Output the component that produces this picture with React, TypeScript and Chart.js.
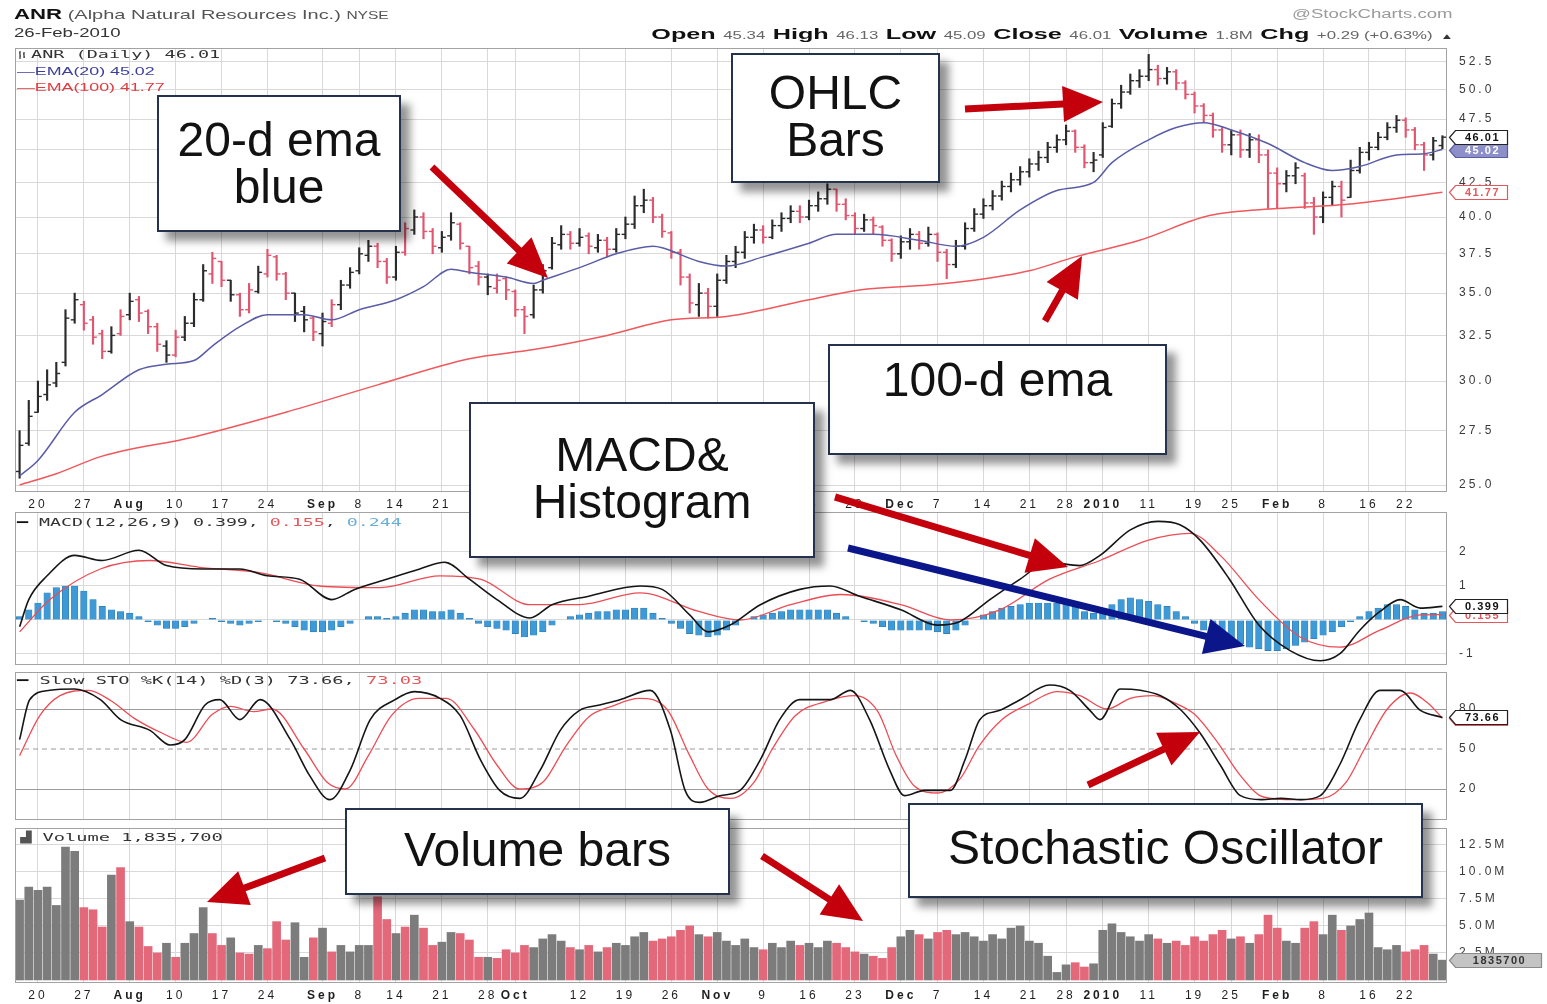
import React, { useEffect, useRef } from 'react';
import { Chart, registerables } from 'chart.js';
Chart.register(...registerables);

const FONT = "'Liberation Sans', Arial, Helvetica, sans-serif";
const MONO = "'DejaVu Sans Mono', 'Liberation Mono', monospace";

// ---------- DATA ----------
const N = 156; // trading days 16-Jul-2009 .. 26-Feb-2010
const tickIndex = [2, 7, 12, 17, 22, 27, 33, 37, 41, 46, 51, 54, 61, 66, 71, 76, 81, 86, 91, 96, 100, 105, 110, 114, 118, 123, 128, 132, 137, 142, 147, 151];
const tickLabels = ['20', '27', 'Aug', '10', '17', '24', 'Sep', '8', '14', '21', '28', 'Oct', '12', '19', '26', 'Nov', '9', '16', '23', 'Dec', '7', '14', '21', '28', '2010', '11', '19', '25', 'Feb', '8', '16', '22'];
const boldLabels = ['Aug', 'Sep', 'Oct', 'Nov', 'Dec', '2010', 'Feb'];

const priceTicks = [25, 27.5, 30, 32.5, 35, 37.5, 40, 42.5, 45, 47.5, 50, 52.5];
const macdTicks = [-1, 0, 1, 2];
const stochTicks = [20, 50, 80];
const volumeTicks = [2.5, 5, 7.5, 10, 12.5];

// [open, high, low, close]
const ohlc = [
  [25.6, 27.5, 25.3, 26.8], [26.9, 29.0, 26.8, 28.2], [28.4, 30.0, 28.4, 29.2], [29.3, 30.6, 29.0, 29.8], [29.9, 31.0, 29.7, 30.4],
  [31.0, 34.0, 30.8, 33.5], [33.4, 35.0, 33.2, 34.6], [34.3, 34.5, 32.8, 33.2], [33.4, 33.6, 32.0, 32.4], [32.6, 32.8, 31.2, 31.6],
  [31.6, 33.0, 31.5, 32.5], [32.6, 34.0, 32.5, 33.6], [33.7, 35.0, 33.4, 34.5], [34.6, 34.8, 33.3, 33.8], [33.9, 34.0, 32.6, 33.0],
  [33.0, 33.2, 31.6, 32.0], [31.9, 32.2, 31.0, 31.4], [31.4, 32.8, 31.3, 32.4], [32.4, 33.6, 32.2, 33.2], [33.2, 35.0, 33.0, 34.6],
  [34.6, 36.8, 34.5, 36.4], [36.2, 37.6, 35.6, 37.2], [37.0, 37.0, 35.4, 35.8], [35.8, 35.8, 34.5, 34.9], [34.9, 35.0, 33.6, 34.0],
  [34.0, 35.6, 33.8, 35.2], [35.1, 36.7, 35.0, 36.3], [36.2, 37.8, 36.0, 37.4], [37.3, 37.4, 35.8, 36.2], [36.2, 36.3, 34.6, 35.0],
  [35.0, 35.0, 33.3, 33.8], [33.9, 34.2, 32.7, 33.4], [33.5, 33.6, 32.2, 32.7], [32.6, 33.8, 31.9, 33.3], [33.2, 34.6, 33.0, 34.3],
  [34.3, 35.8, 34.0, 35.5], [35.5, 36.6, 35.3, 36.3], [36.4, 37.9, 36.2, 37.5], [37.4, 38.4, 37.0, 38.0], [38.0, 38.2, 36.6, 37.0],
  [37.0, 37.2, 35.6, 36.0], [36.0, 38.0, 35.8, 37.6], [37.6, 39.6, 37.4, 39.2], [39.1, 40.5, 38.8, 40.0], [40.0, 40.3, 38.5, 39.0],
  [39.0, 39.2, 37.5, 38.0], [37.9, 39.0, 37.6, 38.6], [38.7, 40.3, 38.4, 39.6], [39.5, 39.6, 37.8, 38.2], [38.0, 38.0, 36.2, 36.6],
  [36.7, 37.0, 35.5, 36.0], [36.0, 36.2, 34.9, 35.4], [35.3, 36.2, 35.0, 35.8], [35.9, 36.0, 34.6, 35.2], [35.1, 35.2, 33.6, 34.0],
  [34.0, 34.2, 32.6, 33.6], [33.7, 35.5, 33.5, 35.2], [35.2, 36.8, 35.0, 36.4], [36.6, 38.6, 36.5, 38.2], [38.1, 39.4, 37.8, 38.8],
  [38.8, 39.0, 37.8, 38.2], [38.2, 39.2, 38.0, 38.6], [38.7, 38.9, 37.5, 38.0], [37.9, 38.8, 37.6, 38.4], [38.4, 38.6, 37.3, 37.8],
  [37.8, 39.2, 37.6, 38.8], [38.8, 40.0, 38.5, 39.5], [39.5, 41.5, 39.2, 40.8], [40.8, 42.0, 40.3, 41.2], [41.2, 41.4, 39.6, 40.0],
  [40.0, 40.2, 38.6, 39.0], [38.9, 39.0, 37.2, 37.6], [37.6, 37.8, 35.5, 36.0], [36.0, 36.2, 33.8, 34.4], [34.3, 35.6, 33.6, 35.0],
  [35.0, 35.3, 33.5, 34.2], [34.2, 36.2, 33.6, 35.8], [35.8, 37.4, 35.6, 37.0], [37.0, 38.0, 36.6, 37.6], [37.6, 39.0, 37.2, 38.6],
  [38.6, 39.5, 38.2, 39.1], [39.1, 39.4, 38.2, 38.6], [38.6, 39.8, 38.5, 39.4], [39.4, 40.3, 39.0, 39.9], [39.9, 40.8, 39.6, 40.4],
  [40.4, 40.8, 39.6, 40.0], [40.0, 41.2, 39.8, 40.8], [40.8, 41.8, 40.4, 41.3], [41.3, 42.4, 40.9, 42.0], [42.0, 42.0, 40.4, 40.9],
  [40.9, 41.3, 39.8, 40.1], [40.1, 40.3, 38.8, 39.2], [39.2, 40.2, 39.0, 39.8], [39.8, 40.0, 38.8, 39.4], [39.3, 39.4, 38.0, 38.4],
  [38.4, 38.5, 37.0, 37.5], [37.5, 38.7, 37.2, 38.3], [38.3, 39.2, 37.8, 38.8], [38.8, 39.0, 37.8, 38.2], [38.2, 39.3, 38.0, 38.8],
  [38.8, 38.9, 37.0, 37.6], [37.6, 37.8, 35.9, 36.8], [36.8, 38.4, 36.6, 38.0], [38.0, 39.6, 37.8, 39.2], [39.2, 40.6, 39.0, 40.2],
  [40.2, 41.3, 39.9, 40.8], [40.8, 41.9, 40.5, 41.5], [41.5, 42.6, 41.2, 42.2], [42.2, 43.2, 41.8, 42.7], [42.7, 43.7, 42.3, 43.3],
  [43.3, 44.3, 42.9, 43.9], [43.9, 44.9, 43.4, 44.4], [44.4, 45.6, 44.0, 45.2], [45.2, 46.2, 44.8, 45.8], [45.8, 47.0, 45.4, 46.5],
  [46.5, 46.6, 44.8, 45.2], [45.2, 45.4, 43.6, 44.0], [44.0, 44.8, 43.3, 44.2], [44.6, 47.2, 44.4, 46.8], [46.9, 49.2, 46.8, 48.8],
  [48.8, 50.4, 48.4, 49.8], [49.8, 51.4, 49.6, 50.8], [50.8, 51.8, 50.2, 51.2], [51.2, 53.2, 50.8, 51.8], [51.8, 52.2, 50.4, 51.0],
  [51.0, 52.0, 50.5, 51.6], [51.6, 51.8, 50.0, 50.6], [50.6, 50.8, 49.2, 49.6], [49.6, 49.8, 48.0, 48.6], [48.6, 48.8, 47.2, 47.8],
  [47.8, 48.0, 46.0, 46.6], [46.6, 46.8, 44.8, 45.4], [45.4, 46.6, 44.6, 46.2], [46.2, 46.6, 44.4, 45.0], [45.0, 46.3, 44.4, 45.8],
  [45.8, 46.2, 44.0, 44.6], [44.6, 45.0, 40.6, 43.2], [43.2, 43.6, 40.6, 42.4], [42.4, 43.4, 41.8, 43.0], [43.0, 44.0, 42.4, 43.6],
  [43.0, 43.2, 40.6, 41.0], [41.0, 41.4, 38.8, 40.0], [40.0, 41.8, 39.6, 41.4], [41.4, 42.6, 40.8, 42.2], [42.2, 42.6, 40.0, 41.2],
  [41.4, 44.2, 41.4, 43.4], [43.4, 45.2, 43.2, 44.8], [44.8, 45.6, 44.2, 45.2], [45.2, 46.4, 45.0, 46.0], [46.0, 47.2, 45.8, 46.8],
  [46.8, 47.8, 46.4, 47.4], [47.4, 47.6, 46.0, 46.6], [46.6, 46.8, 45.0, 45.4], [45.4, 45.6, 43.4, 44.6], [44.6, 46.0, 44.2, 45.72],
  [45.34, 46.13, 45.09, 46.01],
];

// 1 = down day (red), 0 = up day
const downDay = [
  '0000000111', '0101110100', '0110110111', '0010100001', '1010110011',
  '1011110000', '1010100001', '1111010000', '0100010001', '1101110010',
  '1100000000', '0000011000', '0000101111', '1101011100', '1100100000', '011100',
].join('');

// EMA lines [dayIndex, price]
const ema20 = [[0, 25.4], [2, 26.1], [6, 28.4], [9, 29.3], [13, 30.6], [16, 30.9], [19, 31.1], [21, 31.9], [24, 33.0], [27, 33.7], [31, 33.7], [34, 33.4], [37, 34.0], [41, 34.6], [44, 35.4], [47, 36.5], [49, 36.3], [53, 36.0], [56, 35.6], [57, 35.8], [61, 36.6], [65, 37.5], [69, 38.0], [70, 37.9], [74, 37.0], [77, 36.7], [81, 37.3], [86, 38.2], [89, 38.8], [93, 38.8], [98, 38.4], [102, 38.0], [105, 38.6], [109, 40.5], [113, 41.9], [117, 42.5], [119, 44.0], [123, 45.8], [126, 46.8], [129, 47.2], [132, 46.6], [136, 45.5], [140, 44.0], [143, 43.4], [146, 43.7], [150, 44.6], [153, 44.7], [155, 45.02]];
const ema100 = [[0, 25.0], [4, 25.5], [9, 26.3], [19, 27.2], [29, 28.4], [39, 29.8], [49, 31.2], [56, 31.7], [64, 32.5], [71, 33.4], [77, 33.6], [86, 34.6], [91.5, 35.2], [99, 35.5], [104, 35.8], [110, 36.4], [115, 37.3], [122, 38.4], [129.6, 40.1], [137, 40.6], [144.7, 40.9], [155, 41.77]];

// MACD(12,26,9)
const macdLine = [[0, -0.2], [1, 0.6], [3, 1.3], [6, 1.9], [9, 1.75], [13, 2.05], [16, 1.6], [20, 1.5], [24, 1.5], [27, 1.3], [30.5, 1.2], [34, 0.6], [36.5, 0.9], [40, 1.2], [43.6, 1.5], [46.3, 1.7], [49, 1.2], [52, 0.6], [55.6, 0.06], [58, 0.45], [62, 0.7], [67.6, 1.0], [70, 0.9], [73, 0.15], [75, -0.35], [77.4, -0.15], [80.7, 0.45], [85, 0.9], [88.3, 1.0], [91.5, 0.7], [96, 0.3], [100, -0.15], [102.4, -0.05], [105.7, 0.6], [109, 1.2], [112, 1.7], [115.5, 1.6], [117.7, 1.9], [121, 2.65], [124, 2.9], [126.4, 2.8], [128.6, 2.35], [131.8, 1.2], [135, -0.15], [138.4, -0.9], [141.7, -1.2], [143.8, -1.0], [146, -0.3], [148.2, 0.25], [150.4, 0.6], [152.6, 0.35], [155, 0.399]];
const signalLine = [[0, -0.35], [3.3, 0.6], [8.8, 1.5], [14.2, 1.75], [19.6, 1.55], [26, 1.4], [32.7, 1.0], [39.3, 0.95], [45.8, 1.3], [50.2, 1.2], [55.6, 0.45], [61, 0.45], [67.6, 0.8], [74, 0.25], [78.5, 0.0], [84, 0.45], [89.4, 0.75], [96, 0.45], [101.4, 0.0], [106.8, 0.3], [112.2, 1.2], [117.7, 1.75], [123, 2.35], [127.5, 2.55], [130.8, 1.9], [135, 0.6], [139.5, -0.5], [143.8, -0.8], [148.2, -0.3], [152.6, 0.15], [155, 0.155]];
const histogram = [
  0.1, 0.3, 0.5, 0.8, 0.95, 1.0, 1.0, 0.85, 0.6, 0.4,
  0.3, 0.25, 0.2, 0.1, -0.05, -0.15, -0.25, -0.25, -0.2, -0.1,
  0.0, 0.05, -0.05, -0.1, -0.15, -0.1, -0.05, 0.0, -0.05, -0.1,
  -0.2, -0.3, -0.35, -0.35, -0.3, -0.2, -0.1, 0.0, 0.1, 0.1,
  0.05, 0.1, 0.2, 0.3, 0.3, 0.25, 0.25, 0.3, 0.2, 0.05,
  -0.1, -0.2, -0.25, -0.3, -0.4, -0.5, -0.45, -0.35, -0.15, 0.0,
  0.1, 0.15, 0.2, 0.25, 0.25, 0.3, 0.3, 0.35, 0.35, 0.2,
  0.05, -0.1, -0.25, -0.4, -0.45, -0.5, -0.45, -0.3, -0.15, 0.0,
  0.1, 0.15, 0.2, 0.25, 0.3, 0.3, 0.3, 0.3, 0.3, 0.2,
  0.1, 0.0, -0.05, -0.1, -0.2, -0.3, -0.3, -0.3, -0.3, -0.3,
  -0.35, -0.4, -0.3, -0.15, 0.0, 0.15, 0.25, 0.35, 0.4, 0.45,
  0.5, 0.5, 0.5, 0.5, 0.5, 0.4, 0.25, 0.2, 0.3, 0.45,
  0.6, 0.65, 0.6, 0.55, 0.45, 0.4, 0.25, 0.1, -0.1, -0.3,
  -0.45, -0.55, -0.6, -0.7, -0.8, -0.85, -0.9, -0.9, -0.85, -0.75,
  -0.65, -0.55, -0.45, -0.35, -0.2, -0.05, 0.1, 0.25, 0.35, 0.45,
  0.45, 0.4, 0.3, 0.2, 0.2, 0.244,
];

// Slow STO %K(14) %D(3)
const stochK = [[0, 57], [1.1, 87], [3.3, 94], [6, 95], [8.8, 87], [11, 72], [14.2, 64], [16.4, 53], [18, 57], [20.2, 83], [21.8, 87], [24, 72], [26.2, 87], [29.5, 57], [31.6, 30], [33.8, 12], [36, 34], [38.2, 72], [40.9, 87], [43, 93], [45.8, 88], [48, 75], [50.2, 42], [52.3, 19], [54.5, 13], [56.7, 34], [58.9, 64], [61, 79], [63.2, 83], [65.4, 87], [68.7, 94], [70.9, 64], [72.5, 19], [74.1, 10], [76.3, 15], [78.5, 19], [80.7, 42], [82.8, 72], [85, 87], [88.3, 87], [90.5, 94], [92.6, 72], [94.8, 34], [96.4, 15], [98.6, 19], [101.4, 19], [103, 42], [104.6, 72], [106.8, 79], [109, 87], [112.2, 98], [114.4, 94], [116.6, 79], [117.7, 72], [119.9, 95], [122.1, 94], [124.3, 90], [126.4, 80], [128.6, 62], [130.8, 38], [133, 15], [135.3, 12], [137.4, 13], [139.6, 12], [141.7, 15], [143.8, 38], [146, 72], [148.2, 94], [150.4, 94], [152.6, 79], [155, 73.66]];
const stochD = [[0, 45], [2.2, 75], [4.4, 90], [7.5, 94], [10, 86], [12.5, 73], [15.5, 62], [18.2, 55], [21, 76], [23, 82], [25.5, 78], [27.5, 80], [31, 50], [33.5, 25], [35.5, 20], [38, 45], [40.5, 75], [43.5, 88], [46.5, 88], [49.5, 65], [52, 38], [54.5, 20], [57, 25], [59.5, 52], [62, 74], [64.5, 82], [67.5, 88], [70.5, 80], [73, 45], [75, 20], [77.5, 13], [80, 25], [82, 50], [84.5, 75], [88, 86], [91, 90], [93.5, 78], [95.5, 45], [97.5, 22], [100, 17], [102.5, 28], [104.5, 52], [107, 72], [110, 84], [113, 93], [115.5, 90], [118.5, 80], [121, 88], [123.5, 90], [126, 84], [128, 76], [130.5, 55], [133, 30], [135.5, 14], [139, 12], [142, 13], [144.5, 25], [146.5, 50], [149, 80], [151.5, 92], [153.5, 84], [155, 73.03]];

// Volume, millions of shares
const volume = [
  7.4, 8.6, 8.3, 8.6, 6.9, 12.3, 11.9, 6.7, 6.5, 4.9,
  9.7, 10.4, 5.4, 4.9, 3.1, 2.5, 3.4, 2.1, 3.4, 4.3,
  6.7, 4.3, 3.2, 3.9, 2.5, 2.4, 3.2, 2.9, 5.4, 3.7,
  5.3, 2.1, 3.9, 4.8, 2.6, 3.2, 2.6, 3.2, 3.2, 7.7,
  5.6, 4.3, 4.9, 6.0, 4.8, 3.2, 3.5, 4.4, 4.3, 3.7,
  2.1, 2.1, 2.0, 2.8, 2.5, 3.2, 3.0, 3.8, 4.2, 3.6,
  3.0, 2.8, 3.2, 2.6, 3.0, 3.4, 3.2, 4.0, 4.4, 3.6,
  3.8, 4.0, 4.6, 5.0, 4.2, 4.0, 4.4, 3.6, 3.2, 3.8,
  3.0, 2.8, 3.4, 3.0, 3.6, 3.2, 3.4, 3.0, 3.6, 3.4,
  3.0, 2.6, 2.4, 2.2, 2.0, 3.0, 4.0, 4.6, 4.2, 3.8,
  4.4, 4.6, 4.2, 4.4, 4.0, 3.6, 4.2, 3.8, 4.8, 5.0,
  3.6, 3.4, 2.2, 0.7, 1.4, 1.6, 1.2, 1.5, 4.6, 5.2,
  4.4, 4.0, 3.6, 4.2, 3.8, 3.4, 3.6, 3.2, 4.0, 3.6,
  4.2, 4.6, 3.8, 4.0, 3.4, 4.2, 6.0, 4.8, 3.6, 3.4,
  4.8, 5.4, 4.2, 6.0, 4.6, 5.0, 5.6, 6.2, 3.0, 2.8,
  3.2, 2.6, 2.8, 3.2, 2.4, 1.8357,
];

// ---------- STYLE ----------
const PLOT_LEFT = 15;
const AXIS_W = 100;
const W = 1547;
const BAR_UP = '#2b2b2b';
const BAR_DOWN = '#e0566f';
const VOL_UP = '#7c7c7c';
const VOL_DOWN = '#e2687a';
const GRID = '#d9d9d9';
const RED = '#c4000d';
const NAVY = '#0b168a';

const pts = (arr: number[][]) => arr.map(([x, y]) => ({ x, y }));

const framePlugin = {
  id: 'frame',
  beforeDraw(chart: any) { chart.ctx.letterSpacing = '3px'; },
  afterDraw(chart: any) {
    const { ctx, chartArea: a } = chart;
    ctx.save();
    ctx.strokeStyle = '#a3a3a3';
    ctx.lineWidth = 1;
    ctx.strokeRect(a.left + 0.5, a.top + 0.5, a.width - 1, a.height - 1);
    ctx.restore();
  },
};

type Tag = { value: number; text: string; stroke: string; fill: string; color: string; w: number };
function tagPlugin(tags: Tag[]) {
  return {
    id: 'tags',
    afterDraw(chart: any) {
      const { ctx, chartArea } = chart;
      const ys = chart.scales.y;
      ctx.save();
      ctx.letterSpacing = '1.5px';
      ctx.font = `bold 11px ${FONT}`;
      ctx.textBaseline = 'middle';
      ctx.textAlign = 'center';
      for (const t of tags) {
        const y = Math.round(ys.getPixelForValue(t.value)) + 0.5;
        const x0 = chartArea.right + 2.5;
        const x1 = x0 + t.w;
        const h = 14;
        ctx.beginPath();
        ctx.moveTo(x0, y);
        ctx.lineTo(x0 + 6, y - h / 2);
        ctx.lineTo(x1, y - h / 2);
        ctx.lineTo(x1, y + h / 2);
        ctx.lineTo(x0 + 6, y + h / 2);
        ctx.closePath();
        ctx.fillStyle = t.fill;
        ctx.fill();
        ctx.lineWidth = 1.2;
        ctx.strokeStyle = t.stroke;
        ctx.stroke();
        ctx.fillStyle = t.color;
        ctx.fillText(t.text, (x0 + 6 + x1) / 2 + 1, y + 0.5);
      }
      ctx.restore();
    },
  };
}

function xScale(show: boolean) {
  return {
    type: 'linear',
    min: -0.5,
    max: N - 0.5,
    offset: false,
    afterBuildTicks: (s: any) => { s.ticks = tickIndex.map((v) => ({ value: v })); },
    afterFit: (s: any) => { s.height = show ? 20 : 0; },
    grid: { color: GRID, drawTicks: false, lineWidth: 1, offset: false },
    border: { display: false },
    ticks: {
      display: show,
      autoSkip: false,
      maxRotation: 0,
      padding: 5,
      color: '#1e1e1e',
      callback: (v: number) => { const j = tickIndex.indexOf(v); return j >= 0 ? tickLabels[j] : ''; },
      font: (c: any) => {
        const j = c && c.tick ? tickIndex.indexOf(c.tick.value) : -1;
        const lbl = j >= 0 ? tickLabels[j] : '';
        return { family: FONT, size: 12, weight: boldLabels.includes(lbl) ? 'bold' : 'normal' };
      },
    },
  };
}

function yScale(type: string, min: number, max: number, ticks: number[], fmt: (v: number) => string, gridColor?: any) {
  return {
    type,
    position: 'right',
    min,
    max,
    afterBuildTicks: (s: any) => { s.ticks = ticks.map((v) => ({ value: v })); },
    afterFit: (s: any) => { s.width = AXIS_W; },
    grid: { color: gridColor || GRID, drawTicks: false },
    border: { display: false },
    ticks: { padding: 12, color: '#3a3a3a', font: { family: FONT, size: 12 }, callback: fmt },
  };
}

function common(top: number, bottom: number) {
  return {
    responsive: false,
    animation: false,
    events: [],
    layout: { padding: { left: PLOT_LEFT, right: 0, top, bottom } },
    plugins: { legend: { display: false }, tooltip: { enabled: false } },
  };
}

const barColors = ohlc.map((_, i) => (downDay[i] === '1' ? BAR_DOWN : BAR_UP));
const volColors = volume.map((_, i) => (downDay[i] === '1' ? VOL_DOWN : VOL_UP));

function priceConfig(): any {
  return {
    type: 'bar',
    data: {
      datasets: [
        { type: 'line', data: pts(ema20), borderColor: '#5a5ca6', borderWidth: 1.5, pointRadius: 0, cubicInterpolationMode: 'monotone' },
        { type: 'line', data: pts(ema100), borderColor: '#f0585c', borderWidth: 1.5, pointRadius: 0, cubicInterpolationMode: 'monotone' },
        { type: 'line', showLine: false, data: ohlc.map((d, i) => ({ x: i - 0.2, y: d[0] })), pointStyle: 'line', pointRadius: 2, pointBorderWidth: 1.4, pointBorderColor: barColors, borderColor: BAR_UP },
        { type: 'line', showLine: false, data: ohlc.map((d, i) => ({ x: i + 0.2, y: d[3] })), pointStyle: 'line', pointRadius: 2, pointBorderWidth: 1.4, pointBorderColor: barColors, borderColor: BAR_UP },
        { type: 'bar', data: ohlc.map((d, i) => ({ x: i, y: [d[2], d[1]] })), backgroundColor: barColors, barThickness: 1.5, grouped: false },
      ],
    },
    options: {
      ...common(48, 0),
      scales: {
        x: xScale(true),
        y: yScale('logarithmic', 24.695, 53.8, priceTicks, (v: number) => Number(v).toFixed(1)),
      },
    },
    plugins: [framePlugin, tagPlugin([
      { value: 41.77, text: '41.77', stroke: '#e2585c', fill: '#ffffff', color: '#e2585c', w: 58 },
      { value: 45.02, text: '45.02', stroke: '#5a5ca6', fill: '#8c8fc8', color: '#ffffff', w: 58 },
      { value: 46.01, text: '46.01', stroke: '#222222', fill: '#ffffff', color: '#111111', w: 58 },
    ])],
  };
}

function macdConfig(): any {
  return {
    type: 'bar',
    data: {
      datasets: [
        { type: 'line', data: pts(macdLine), borderColor: '#151515', borderWidth: 1.6, pointRadius: 0, cubicInterpolationMode: 'monotone' },
        { type: 'line', data: pts(signalLine), borderColor: '#ec4d55', borderWidth: 1.3, pointRadius: 0, cubicInterpolationMode: 'monotone' },
        { type: 'bar', data: histogram.map((v, i) => ({ x: i, y: v })), backgroundColor: '#3d9ad6', borderColor: '#2d79b0', borderWidth: 0.6, barThickness: 6.5, grouped: false },
      ],
    },
    options: {
      ...common(20, 20),
      scales: {
        x: xScale(false),
        y: yScale('linear', -1.324, 3.176, macdTicks, (v: number) => (v === 0 ? '' : String(v))),
      },
    },
    plugins: [framePlugin, tagPlugin([
      { value: 0.155, text: '0.155', stroke: '#e2585c', fill: '#ffffff', color: '#e2585c', w: 58 },
      { value: 0.399, text: '0.399', stroke: '#222222', fill: '#ffffff', color: '#111111', w: 58 },
    ])],
  };
}

function stochConfig(): any {
  return {
    type: 'line',
    data: {
      datasets: [
        { data: pts(stochK), borderColor: '#151515', borderWidth: 1.6, pointRadius: 0, cubicInterpolationMode: 'monotone' },
        { data: pts(stochD), borderColor: '#ec4d55', borderWidth: 1.3, pointRadius: 0, cubicInterpolationMode: 'monotone' },
        { data: [{ x: -0.5, y: 50 }, { x: N - 0.5, y: 50 }], borderColor: '#9a9a9a', borderWidth: 1, borderDash: [5, 4], pointRadius: 0 },
      ],
    },
    options: {
      ...common(20, 20),
      scales: {
        x: xScale(false),
        y: yScale('linear', -3.25, 107.75, stochTicks, (v: number) => String(v), (c: any) => (c.tick && c.tick.value === 50 ? 'rgba(0,0,0,0)' : '#9c9c9c')),
      },
    },
    plugins: [framePlugin, tagPlugin([
      { value: 73.03, text: '73.03', stroke: '#e2585c', fill: '#ffffff', color: '#e2585c', w: 58 },
      { value: 73.66, text: '73.66', stroke: '#222222', fill: '#ffffff', color: '#111111', w: 58 },
    ])],
  };
}

function volumeConfig(): any {
  return {
    type: 'bar',
    data: {
      datasets: [
        { data: volume.map((v, i) => ({ x: i, y: v })), backgroundColor: volColors, barThickness: 8, grouped: false },
      ],
    },
    options: {
      ...common(20, 0),
      scales: {
        x: xScale(true),
        y: yScale('linear', -0.28, 14.07, volumeTicks, (v: number) => Number(v).toFixed(1) + 'M'),
      },
    },
    plugins: [framePlugin, tagPlugin([
      { value: 1.8357, text: '1835700', stroke: '#8a8a8a', fill: '#c4c4c4', color: '#333333', w: 92 },
    ])],
  };
}

// ---------- ANNOTATIONS ----------
function arrowPoints(x1: number, y1: number, x2: number, y2: number, w: number, L: number, H: number) {
  const dx = x2 - x1, dy = y2 - y1, len = Math.hypot(dx, dy);
  const ux = dx / len, uy = dy / len, px = -uy, py = ux;
  const bx = x2 - ux * L, by = y2 - uy * L;
  const p = [
    [x1 + px * w / 2, y1 + py * w / 2], [bx + px * w / 2, by + py * w / 2], [bx + px * H / 2, by + py * H / 2], [x2, y2],
    [bx - px * H / 2, by - py * H / 2], [bx - px * w / 2, by - py * w / 2], [x1 - px * w / 2, y1 - py * w / 2],
  ];
  return p.map((q) => q[0].toFixed(1) + ',' + q[1].toFixed(1)).join(' ');
}

const arrows = [
  { x1: 432, y1: 167, x2: 548, y2: 278, c: RED },
  { x1: 965, y1: 109, x2: 1103, y2: 102, c: RED },
  { x1: 1045, y1: 321, x2: 1082, y2: 256, c: RED },
  { x1: 835, y1: 497, x2: 1068, y2: 567, c: RED },
  { x1: 848, y1: 548, x2: 1245, y2: 646, c: NAVY },
  { x1: 1088, y1: 785, x2: 1200, y2: 732, c: RED },
  { x1: 325, y1: 858, x2: 207, y2: 902, c: RED },
  { x1: 762, y1: 856, x2: 863, y2: 921, c: RED },
];

const boxes = [
  { x: 157, y: 95, w: 244, h: 137, t: 19, lines: ['20-d ema', 'blue'] },
  { x: 731, y: 53, w: 209, h: 130, t: 14, lines: ['OHLC', 'Bars'] },
  { x: 828, y: 344, w: 339, h: 111, t: 10, lines: ['100-d ema'] },
  { x: 469, y: 402, w: 346, h: 156, t: 27, lines: ['MACD&', 'Histogram'] },
  { x: 345, y: 808, w: 385, h: 87, t: 16, lines: ['Volume bars'] },
  { x: 908, y: 803, w: 515, h: 95, t: 19, lines: ['Stochastic Oscillator'] },
];

const abs = (x: number, y: number, extra: any = {}) => ({ position: 'absolute' as const, left: x, top: y, whiteSpace: 'nowrap' as const, ...extra });

export default function App() {
  const priceRef = useRef<HTMLCanvasElement>(null);
  const macdRef = useRef<HTMLCanvasElement>(null);
  const stochRef = useRef<HTMLCanvasElement>(null);
  const volRef = useRef<HTMLCanvasElement>(null);

  useEffect(() => {
    const charts = [
      new Chart(priceRef.current as any, priceConfig()),
      new Chart(macdRef.current as any, macdConfig()),
      new Chart(stochRef.current as any, stochConfig()),
      new Chart(volRef.current as any, volumeConfig()),
    ];
    return () => charts.forEach((c) => c.destroy());
  }, []);

  const stretch = (sx: number, origin = 'left top') => ({ transform: `scaleX(${sx})`, transformOrigin: origin });

  return (
    <div style={{ position: 'absolute', left: 0, top: 0, width: W, height: 1004, background: '#fff', overflow: 'hidden', fontFamily: FONT }}>
      <canvas ref={priceRef} width={W} height={512} style={{ position: 'absolute', left: 0, top: 0 }} />
      <canvas ref={macdRef} width={W} height={193} style={{ position: 'absolute', left: 0, top: 492 }} />
      <canvas ref={stochRef} width={W} height={188} style={{ position: 'absolute', left: 0, top: 652 }} />
      <canvas ref={volRef} width={W} height={195} style={{ position: 'absolute', left: 0, top: 808 }} />

      {/* header */}
      <div style={abs(14, 5, { ...stretch(1.48), color: '#555' })}>
        <b style={{ fontSize: 15, color: '#111' }}>ANR</b>
        <span style={{ fontSize: 13.5 }}> (Alpha Natural Resources Inc.) </span>
        <span style={{ fontSize: 10.5 }}>NYSE</span>
      </div>
      <div style={abs(14, 26, { ...stretch(1.55), fontSize: 12, color: '#333' })}>26-Feb-2010</div>
      <div style={{ position: 'absolute', right: W - 1453, top: 7, whiteSpace: 'nowrap', fontSize: 12, color: '#9a9a9a', ...stretch(1.55, 'right top') }}>@StockCharts.com</div>
      <div style={{ position: 'absolute', right: W - 1453, top: 25, whiteSpace: 'nowrap', color: '#111', ...stretch(1.68, 'right top') }}>
        <b style={{ fontSize: 15 }}>Open</b> <span style={{ fontSize: 10, color: '#666' }}>45.34</span>{' '}
        <b style={{ fontSize: 15 }}>High</b> <span style={{ fontSize: 10, color: '#666' }}>46.13</span>{' '}
        <b style={{ fontSize: 15 }}>Low</b> <span style={{ fontSize: 10, color: '#666' }}>45.09</span>{' '}
        <b style={{ fontSize: 15 }}>Close</b> <span style={{ fontSize: 10, color: '#666' }}>46.01</span>{' '}
        <b style={{ fontSize: 15 }}>Volume</b> <span style={{ fontSize: 10, color: '#666' }}>1.8M</span>{' '}
        <b style={{ fontSize: 15 }}>Chg</b> <span style={{ fontSize: 10, color: '#666' }}>+0.29 (+0.63%)</span>{' '}
        <span style={{ fontSize: 8, color: '#333' }}>▲</span>
      </div>

      {/* price legend */}
      <svg style={{ position: 'absolute', left: 18, top: 50 }} width={10} height={10}>
        <path d="M2 1 V9 M1 3 H2 M2 6 H3 M6 2 V8 M5 4 H6 M6 7 H7" stroke="#333" strokeWidth={1.2} fill="none" />
      </svg>
      <div style={abs(31, 48, { ...stretch(1.68), fontFamily: MONO, fontSize: 11, color: '#333' })}>ANR (Daily) 46.01</div>
      <div style={abs(17, 65, { ...stretch(1.62), fontSize: 11, color: '#3d3f9b' })}>—EMA(20) 45.02</div>
      <div style={abs(17, 81, { ...stretch(1.62), fontSize: 11, color: '#e23a3f' })}>—EMA(100) 41.77</div>

      {/* indicator legends */}
      <div style={abs(17, 516, { ...stretch(1.66), fontFamily: MONO, fontSize: 11, color: '#333' })}>
        <b style={{ color: '#111' }}>━</b> MACD(12,26,9) 0.399, <span style={{ color: '#e2585c' }}>0.155</span>, <span style={{ color: '#6aaed6' }}>0.244</span>
      </div>
      <div style={abs(17, 674, { ...stretch(1.7), fontFamily: MONO, fontSize: 11, color: '#333' })}>
        <b style={{ color: '#111' }}>━</b> Slow STO %K(14) %D(3) 73.66, <span style={{ color: '#e2585c' }}>73.03</span>
      </div>
      <div style={abs(20, 831, { ...stretch(1.7), fontFamily: MONO, fontSize: 11, color: '#333' })}>
        <span style={{ color: '#555' }}>▟</span> Volume 1,835,700
      </div>

      {/* callout boxes */}
      {boxes.map((b) => (
        <div key={b.lines.join()} style={{ position: 'absolute', left: b.x, top: b.y, width: b.w, height: b.h, boxSizing: 'border-box', border: '2px solid #25324e', background: '#fff', boxShadow: '9px 9px 8px rgba(0,0,0,0.42)' }}>
          <div style={{ position: 'absolute', left: 0, right: 0, top: b.t, textAlign: 'center', fontFamily: FONT, fontSize: 48, lineHeight: '47px', color: '#121212' }}>
            {b.lines.map((l) => <div key={l}>{l}</div>)}
          </div>
        </div>
      ))}

      {/* arrows */}
      <svg style={{ position: 'absolute', left: 0, top: 0, pointerEvents: 'none' }} width={W} height={1004}>
        {arrows.map((a, i) => (
          <polygon key={i} points={arrowPoints(a.x1, a.y1, a.x2, a.y2, 7, 40, 36)} fill={a.c} />
        ))}
      </svg>
    </div>
  );
}
